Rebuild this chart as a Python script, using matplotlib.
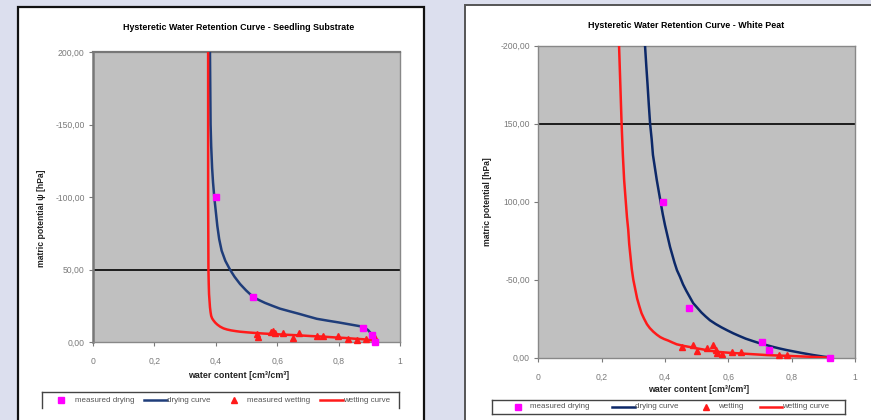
import matplotlib
matplotlib.use("Agg")
import matplotlib.pyplot as plt
from matplotlib.patches import Rectangle
from matplotlib.lines import Line2D

plt.rcParams['font.family'] = ['Liberation Sans', 'DejaVu Sans']

# ---------------- data ----------------
# Seedling substrate
ss_dry_meas_x = [0.400, 0.522, 0.878, 0.908, 0.918]
ss_dry_meas_h = [100, 31, 10, 5, 0]
ss_dry_curve_x = [0.381, 0.382, 0.383, 0.385, 0.388, 0.391, 0.395, 0.400, 0.405, 0.411,
                  0.419, 0.431, 0.446, 0.461, 0.479, 0.499, 0.522, 0.540, 0.560, 0.584,
                  0.609, 0.640, 0.670, 0.700, 0.729, 0.765, 0.800, 0.840, 0.880, 0.896,
                  0.908, 0.915, 0.919, 0.920]
ss_dry_curve_h = [200, 175, 150, 135, 120, 110, 100, 90, 80, 71,
                  63, 56, 50, 45, 40, 35.5, 31, 29, 27, 25,
                  23, 21.2, 19.5, 17.7, 16, 14.7, 13.5, 12, 10.5, 8.2,
                  5.3, 3.5, 2, 0]
ss_wet_meas_x = [0.533, 0.539, 0.579, 0.587, 0.593, 0.620, 0.650, 0.671, 0.729, 0.748,
                 0.799, 0.830, 0.859, 0.889, 0.919]
ss_wet_meas_h = [5.3, 3.7, 6.7, 7.6, 6.4, 6.0, 3.0, 6.0, 4.1, 4.1,
                 4.1, 1.9, 1.4, 1.9, 2.6]
ss_wet_curve_x = [0.375, 0.375, 0.375, 0.376, 0.377, 0.378, 0.380, 0.381, 0.383, 0.385,
                  0.388, 0.392, 0.398, 0.405, 0.414, 0.425, 0.437, 0.450, 0.465, 0.479,
                  0.505, 0.530, 0.558, 0.587, 0.630, 0.670, 0.710, 0.750, 0.785, 0.820,
                  0.850, 0.880, 0.900, 0.918, 0.920]
ss_wet_curve_h = [200, 150, 100, 50, 40, 33, 27, 24, 20.5, 18,
                  16.3, 15, 13.4, 12, 10.6, 9.4, 8.6, 8, 7.5, 7.1,
                  6.6, 6.2, 5.8, 5.5, 5.0, 4.6, 4.1, 3.7, 3.2, 2.8,
                  2.3, 1.9, 1.4, 0.9, 0]

# White peat
wp_dry_meas_x = [0.395, 0.476, 0.706, 0.730, 0.921]
wp_dry_meas_h = [100, 32, 10, 5, 0]
wp_dry_curve_x = [0.337, 0.341, 0.345, 0.349, 0.353, 0.358, 0.362, 0.368, 0.374, 0.380,
                  0.386, 0.393, 0.400, 0.408, 0.416, 0.423, 0.430, 0.438, 0.447, 0.457,
                  0.467, 0.478, 0.489, 0.502, 0.515, 0.528, 0.542, 0.560, 0.578, 0.597,
                  0.616, 0.635, 0.655, 0.677, 0.700, 0.720, 0.740, 0.762, 0.784, 0.807,
                  0.830, 0.849, 0.868, 0.884, 0.900, 0.921]
wp_dry_curve_h = [200, 187, 175, 162, 150, 140, 130, 122, 114, 107,
                  100, 92, 85, 78, 71, 66, 61, 56, 52, 47,
                  43, 39, 35, 32, 29, 26.5, 24, 21.6, 19.5, 17.5,
                  15.6, 13.9, 12.2, 10.7, 9.2, 8.1, 7, 5.9, 4.9, 4,
                  3.1, 2.4, 1.7, 1.2, 0.7, 0.2]
wp_wet_meas_x = [0.453, 0.489, 0.502, 0.532, 0.551, 0.561, 0.563, 0.581, 0.611, 0.640,
                 0.760, 0.786]
wp_wet_meas_h = [7.1, 8.1, 4.5, 6.0, 8.1, 4.9, 2.8, 2.2, 3.8, 3.8,
                 1.7, 1.7]
wp_wet_curve_x = [0.255, 0.259, 0.263, 0.267, 0.271, 0.274, 0.277, 0.280, 0.284, 0.287,
                  0.291, 0.295, 0.300, 0.306, 0.312, 0.319, 0.326, 0.334, 0.343, 0.352,
                  0.363, 0.374, 0.385, 0.397, 0.410, 0.423, 0.437, 0.458, 0.480, 0.500,
                  0.520, 0.541, 0.563, 0.600, 0.640, 0.680, 0.721, 0.770, 0.820, 0.870,
                  0.921]
wp_wet_curve_h = [200, 175, 150, 130, 114, 106, 98, 90, 82, 73,
                  65, 57, 50, 44, 38, 33, 28.5, 25, 21.5, 19,
                  16.7, 14.8, 13.2, 12, 11, 9.8, 8.6, 7.6, 6.8, 6,
                  5.3, 4.5, 3.8, 3.2, 2.7, 2.2, 1.7, 1.3, 0.9, 0.5,
                  0]

x_ticks = [0, 0.2, 0.4, 0.6, 0.8, 1.0]
x_ticklabels = ["0", "0,2", "0,4", "0,6", "0,8", "1"]
y_ticks = [0, 50, 100, 150, 200]
ss_y_ticklabels = ["0,00", "50,00", "-100,00", "-150,00", "200,00"]
wp_y_ticklabels = ["0,00", "-50,00", "100,00", "150,00", "-200,00"]

ss_title = "Hysteretic Water Retention Curve - Seedling Substrate"
wp_title = "Hysteretic Water Retention Curve - White Peat"
ss_ylabel = "matric potential \u03c8 [hPa]"
wp_ylabel = "matric potential [hPa]"
xlabel = "water content [cm\u00b3/cm\u00b3]"
ss_legend = ["measured drying", "drying curve", "measured wetting", "wetting curve"]
wp_legend = ["measured drying", "drying curve", "wetting", "wetting curve"]

# ---------------- figure ----------------
W, H = 871, 420
fig = plt.figure(figsize=(W / 100, H / 100), dpi=100)
fig.patch.set_facecolor('#dcdfee')


def fx(px):
    return px / W


def fy(py):
    return 1 - py / H


# panels
fig.add_artist(Rectangle((fx(18), fy(430)), fx(424) - fx(18), fy(7) - fy(430),
                         transform=fig.transFigure, facecolor='white',
                         edgecolor='#111111', lw=1.6, zorder=0))
fig.add_artist(Rectangle((fx(465), fy(430)), fx(880) - fx(465), fy(5) - fy(430),
                         transform=fig.transFigure, facecolor='white',
                         edgecolor='#555555', lw=1.4, zorder=0))

NAVY_L = '#1f3d7a'
NAVY_R = '#0c2868'
RED = '#ff1a1a'
MAG = '#ff00ff'
TICKC = '#7a7a7a'


def setup(ax, yticklabels, hline):
    ax.set_facecolor('#c0c0c0')
    ax.set_xlim(0, 1)
    ax.set_ylim(0, 200)
    ax.set_xticks(x_ticks)
    ax.set_xticklabels(x_ticklabels)
    ax.set_yticks(y_ticks)
    ax.set_yticklabels(yticklabels)
    ax.tick_params(axis='both', labelsize=6.2, colors=TICKC, length=3, width=0.8)
    ax.tick_params(axis='x', pad=8)
    ax.tick_params(axis='y', pad=3)
    for s in ax.spines.values():
        s.set_color('#888888')
        s.set_linewidth(1.0)
    ax.axhline(hline, color='black', lw=1.2, zorder=2)


# left chart
ax1 = fig.add_axes([fx(93), fy(342), fx(400) - fx(93), fy(52) - fy(342)])
setup(ax1, ss_y_ticklabels, 50)
ax1.spines['left'].set_linewidth(1.8)
ax1.spines['left'].set_color('#777777')
ax1.spines['top'].set_linewidth(1.6)
ax1.spines['top'].set_color('#777777')
ax1.plot(ss_dry_curve_x, ss_dry_curve_h, color=NAVY_L, lw=1.8, zorder=3, solid_joinstyle='round')
ax1.plot(ss_wet_curve_x, ss_wet_curve_h, color=RED, lw=1.8, zorder=4, solid_joinstyle='round')
ax1.plot(ss_wet_meas_x, ss_wet_meas_h, ls='none', marker='^', ms=4, color=RED, zorder=5, clip_on=False)
ax1.plot(ss_dry_meas_x, ss_dry_meas_h, ls='none', marker='s', ms=4.3, color=MAG, zorder=6, clip_on=False)

fig.text(fx(239), fy(28), ss_title, ha='center', va='center', fontsize=6.4, fontweight='bold')
fig.text(fx(239), fy(376), xlabel, ha='center', va='center', fontsize=6.4, fontweight='bold', color='#222222')
fig.text(fx(41), fy(218), ss_ylabel, ha='center', va='center', fontsize=6.2, fontweight='bold',
         rotation=90, color='#222222')

# right chart
ax2 = fig.add_axes([fx(538.3), fy(357.7), fx(855) - fx(538.3), fy(45.7) - fy(357.7)])
setup(ax2, wp_y_ticklabels, 150)
ax2.plot(wp_dry_curve_x, wp_dry_curve_h, color=NAVY_R, lw=1.8, zorder=3, solid_joinstyle='round')
ax2.plot(wp_wet_curve_x, wp_wet_curve_h, color=RED, lw=1.8, zorder=4, solid_joinstyle='round')
ax2.plot(wp_wet_meas_x, wp_wet_meas_h, ls='none', marker='^', ms=4, color=RED, zorder=5, clip_on=False)
ax2.plot(wp_dry_meas_x, wp_dry_meas_h, ls='none', marker='s', ms=4.3, color=MAG, zorder=6, clip_on=False)

fig.text(fx(686), fy(25), wp_title, ha='center', va='center', fontsize=6.4, fontweight='bold')
fig.text(fx(699), fy(390), xlabel, ha='center', va='center', fontsize=6.4, fontweight='bold', color='#222222')
fig.text(fx(487), fy(202), wp_ylabel, ha='center', va='center', fontsize=6.2, fontweight='bold',
         rotation=90, color='#222222')


# legends (drawn manually to match placement)
def legend(box, y, items, labels, bottom=True):
    x0, x1, ytop, ybot = box
    segs = [([x0, x0], [ybot, ytop]), ([x0, x1], [ytop, ytop]), ([x1, x1], [ytop, ybot])]
    if bottom:
        segs.append(([x0, x1], [ybot, ybot]))
    for xs, ys in segs:
        fig.add_artist(Line2D([fx(v) for v in xs], [fy(v) for v in ys], transform=fig.transFigure,
                              color='#444444', lw=1.0))
    for (kind, color, hx0, hx1, tx), lab in zip(items, labels):
        if kind == 'line':
            fig.add_artist(Line2D([fx(hx0), fx(hx1)], [fy(y), fy(y)], transform=fig.transFigure,
                                  color=color, lw=1.8))
        else:
            fig.add_artist(Line2D([fx(hx0)], [fy(y)], transform=fig.transFigure, ls='none',
                                  marker=kind, ms=3.8, color=color))
        fig.text(fx(tx), fy(y), lab, ha='left', va='center', fontsize=5.8, color='#555555')


legend((41.5, 398.5, 392, 408), 400,
       [('s', MAG, 61, 61, 75), ('line', NAVY_L, 144, 167, 167),
        ('^', RED, 234, 234, 247), ('line', RED, 320, 343, 343)],
       ss_legend, bottom=False)
legend((492, 845, 399.5, 413.5), 406.5,
       [('s', MAG, 518, 518, 530), ('line', NAVY_R, 612, 635, 635),
        ('^', RED, 706, 706, 718), ('line', RED, 760, 782, 782)],
       wp_legend, bottom=True)

fig.savefig('out.png', dpi=100, facecolor=fig.get_facecolor())
